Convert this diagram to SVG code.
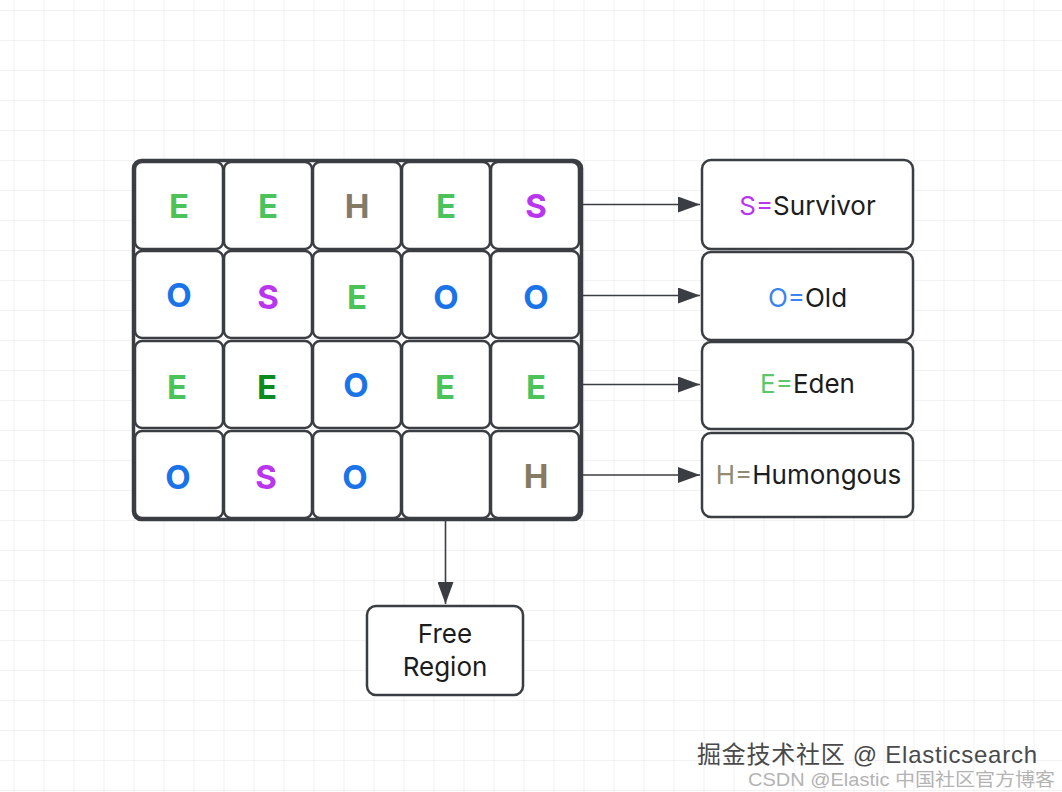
<svg xmlns="http://www.w3.org/2000/svg" width="1062" height="792" viewBox="0 0 1062 792">
<defs>
<pattern id="grid" x="13.5" y="10" width="30" height="30" patternUnits="userSpaceOnUse">
<path d="M0 0 H30 M0 0 V30" fill="none" stroke="#e6e6e6" stroke-width="1.2"/>
</pattern>
<marker id="ah" viewBox="0 0 22 16" refX="22" refY="8" markerWidth="22" markerHeight="16" markerUnits="userSpaceOnUse" orient="auto">
<path d="M0 0 L22 8 L0 16 Z" fill="#3a3d42"/>
</marker>
<style>
.cell{fill:#fff;stroke:#3a3d42;stroke-width:2.5}
.box{fill:#fff;stroke:#3a3d42;stroke-width:2.5}
.L{font-family:Inter,"Liberation Sans",sans-serif;font-weight:700;font-size:33px;text-anchor:middle}
.g{fill:#4cc35a}.dg{fill:#0b8a1f}.b{fill:#1a73e8}.s{fill:#b936ee}.h{fill:#857a63}
.t{font-family:Inter,"Liberation Sans",sans-serif;font-size:26px;text-anchor:middle;fill:#1c1c1c}
.conn{stroke:#3a3d42;stroke-width:1.6;fill:none}
</style>
</defs>
<rect width="1062" height="792" fill="#fff"/>
<rect width="1062" height="792" fill="url(#grid)"/>

<g id="heap">
<rect x="133.5" y="160.5" width="448" height="359" rx="8" fill="#fff" stroke="#3a3d42" stroke-width="3.5"/>
</g>
<g id="cell-1-1"><rect class="cell" x="135" y="162" width="88" height="87" rx="7"/><text class="L g" x="179" y="218">E</text></g>
<g id="cell-1-2"><rect class="cell" x="224" y="162" width="88" height="87" rx="7"/><text class="L g" x="268" y="218">E</text></g>
<g id="cell-1-3"><rect class="cell" x="313" y="162" width="88" height="87" rx="7"/><text class="L h" x="357" y="218">H</text></g>
<g id="cell-1-4"><rect class="cell" x="402" y="162" width="88" height="87" rx="7"/><text class="L g" x="446" y="218">E</text></g>
<g id="cell-1-5"><rect class="cell" x="491" y="162" width="88" height="87" rx="7"/><text class="L s" x="536" y="218">S</text></g>

<g id="cell-2-1"><rect class="cell" x="135" y="251" width="88" height="87" rx="7"/><text class="L b" x="179" y="307">O</text></g>
<g id="cell-2-2"><rect class="cell" x="224" y="251" width="88" height="87" rx="7"/><text class="L s" x="268" y="309">S</text></g>
<g id="cell-2-3"><rect class="cell" x="313" y="251" width="88" height="87" rx="7"/><text class="L g" x="357" y="309">E</text></g>
<g id="cell-2-4"><rect class="cell" x="402" y="251" width="88" height="87" rx="7"/><text class="L b" x="446" y="309">O</text></g>
<g id="cell-2-5"><rect class="cell" x="491" y="251" width="88" height="87" rx="7"/><text class="L b" x="536" y="309">O</text></g>

<g id="cell-3-1"><rect class="cell" x="135" y="341" width="88" height="87" rx="7"/><text class="L g" x="177" y="399">E</text></g>
<g id="cell-3-2"><rect class="cell" x="224" y="341" width="88" height="87" rx="7"/><text class="L dg" x="267" y="399">E</text></g>
<g id="cell-3-3"><rect class="cell" x="313" y="341" width="88" height="87" rx="7"/><text class="L b" x="356" y="397">O</text></g>
<g id="cell-3-4"><rect class="cell" x="402" y="341" width="88" height="87" rx="7"/><text class="L g" x="445" y="399">E</text></g>
<g id="cell-3-5"><rect class="cell" x="491" y="341" width="88" height="87" rx="7"/><text class="L g" x="536" y="399">E</text></g>

<g id="cell-4-1"><rect class="cell" x="135" y="431" width="88" height="87" rx="7"/><text class="L b" x="178" y="489">O</text></g>
<g id="cell-4-2"><rect class="cell" x="224" y="431" width="88" height="87" rx="7"/><text class="L s" x="266" y="489">S</text></g>
<g id="cell-4-3"><rect class="cell" x="313" y="431" width="88" height="87" rx="7"/><text class="L b" x="355" y="489">O</text></g>
<g id="cell-4-4"><rect class="cell" x="402" y="431" width="88" height="87" rx="7"/></g>
<g id="cell-4-5"><rect class="cell" x="491" y="431" width="88" height="87" rx="7"/><text class="L h" x="536" y="488">H</text></g>

<g id="legend-survivor"><rect class="box" x="702" y="160" width="211" height="89" rx="9"/><text class="t" x="807.5" y="215"><tspan class="s">S=</tspan>Survivor</text></g>
<g id="legend-old"><rect class="box" x="702" y="252" width="211" height="88" rx="9"/><text class="t" x="807.5" y="307"><tspan fill="#3b84ee">O=</tspan>Old</text></g>
<g id="legend-eden"><rect class="box" x="702" y="342" width="211" height="87" rx="9"/><text class="t" x="807.5" y="393"><tspan fill="#5cc768">E=</tspan>Eden</text></g>
<g id="legend-humongous"><rect class="box" x="702" y="433" width="211" height="84" rx="9"/><text class="t" x="808.5" y="484"><tspan fill="#938a72">H=</tspan>Humongous</text></g>

<g id="free-region"><rect class="box" x="367" y="606" width="156" height="89" rx="9"/><text class="t" x="445" y="643">Free</text><text class="t" x="445" y="676">Region</text></g>

<g id="connectors">
<line class="conn" x1="583" y1="204.5" x2="700" y2="204.5" marker-end="url(#ah)"/>
<line class="conn" x1="583" y1="295.5" x2="700" y2="295.5" marker-end="url(#ah)"/>
<line class="conn" x1="583" y1="384.5" x2="700" y2="384.5" marker-end="url(#ah)"/>
<line class="conn" x1="583" y1="475" x2="700" y2="475" marker-end="url(#ah)"/>
<line class="conn" x1="445.5" y1="520" x2="445.5" y2="604" marker-end="url(#ah)"/>
</g>

<g id="watermark">
<text x="697" y="763" font-family="'Liberation Sans','Noto Sans CJK SC',sans-serif" font-size="24" textLength="340" lengthAdjust="spacing" fill="#4a4a4a" stroke="#ffffff" stroke-width="0.6" paint-order="stroke">掘金技术社区 @ Elasticsearch</text>
<text x="748" y="786" font-family="'Liberation Sans','Noto Sans CJK SC',sans-serif" font-size="18" textLength="307" lengthAdjust="spacingAndGlyphs" fill="#b3b3b3">CSDN @Elastic 中国社区官方博客</text>
</g>
</svg>
